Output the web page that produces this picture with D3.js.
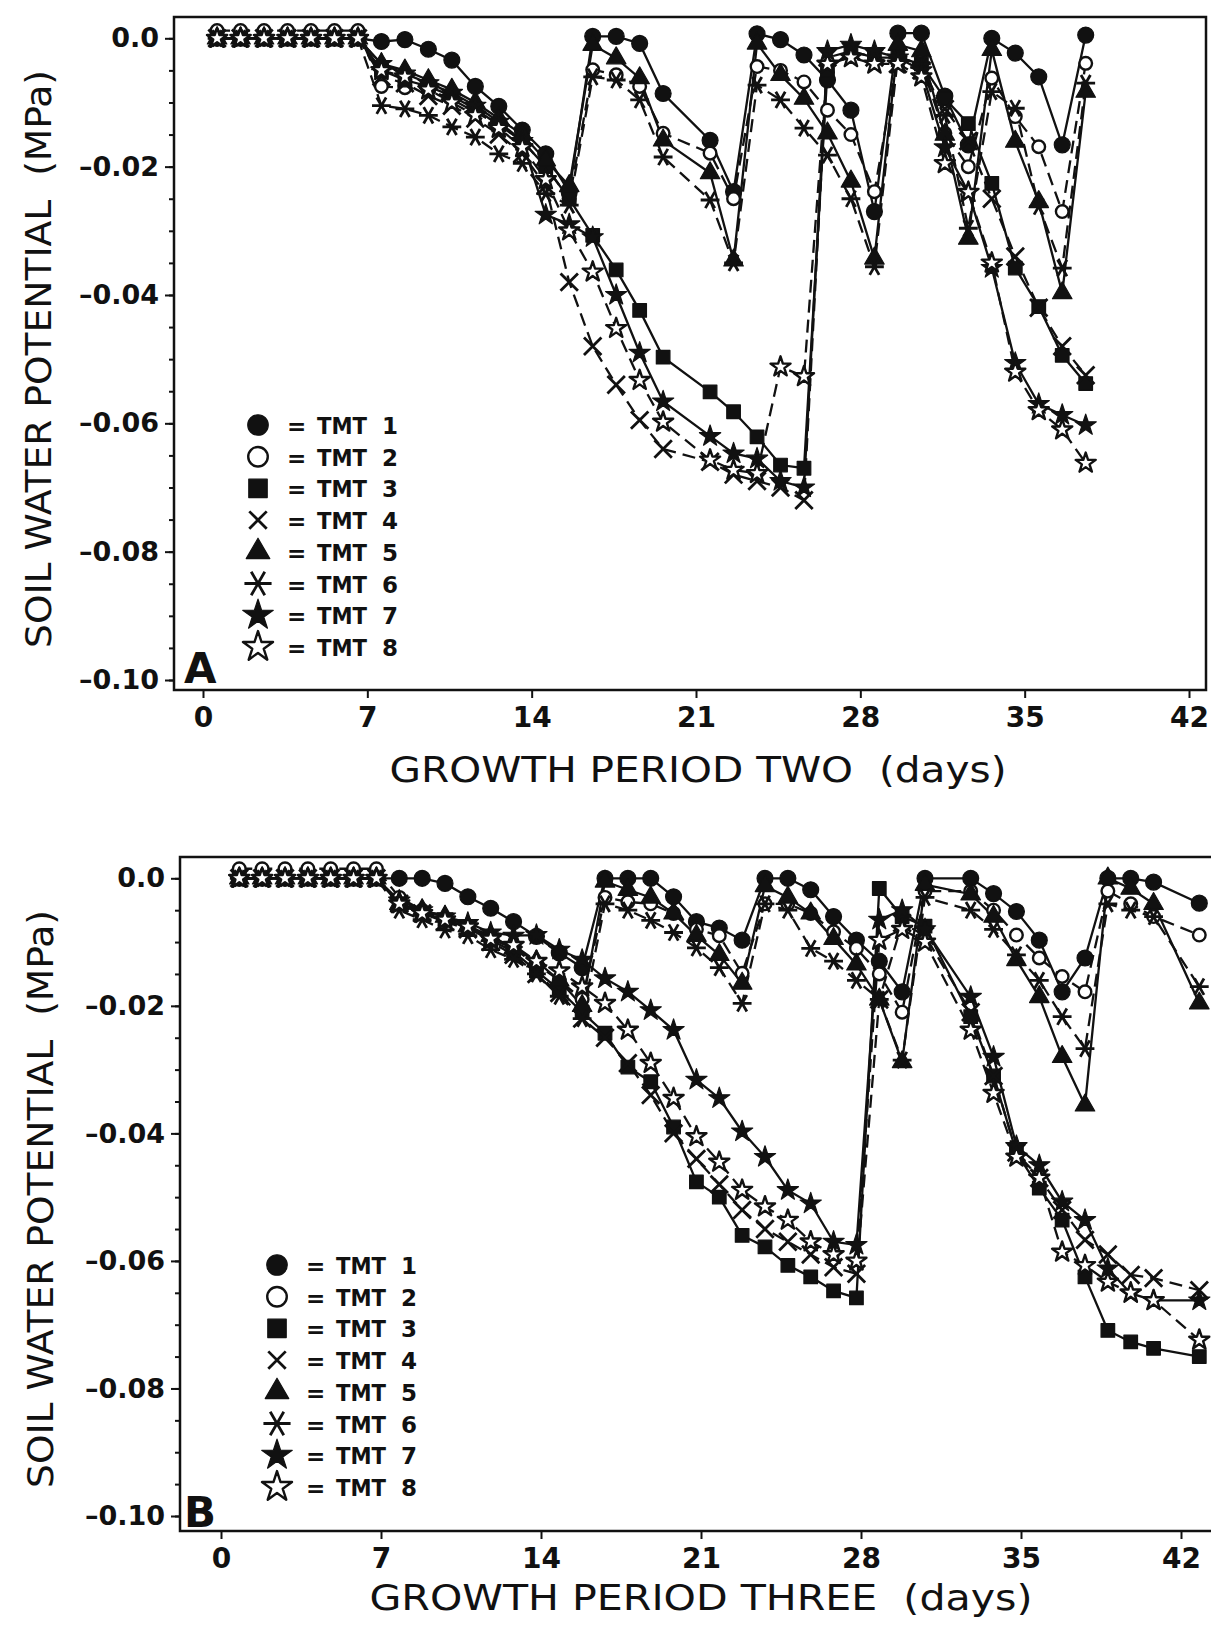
<!DOCTYPE html>
<html>
<head>
<meta charset="utf-8">
<script src="https://cdn.jsdelivr.net/npm/d3@7"></script>
<style>
  body { margin: 0; background: #fff; }
  text { font-family: 'DejaVu Sans', sans-serif; fill: #111; white-space: pre; }
</style>
</head>
<body>
<svg id="chart" width="1211" height="1626"></svg>
<script>
// ---- data ----
const ticksX = [0, 7, 14, 21, 28, 35, 42]
const ticksY = [0, -0.02, -0.04, -0.06, -0.08, -0.10]
const minorY = [0, -0.005, -0.01, -0.015, -0.02, -0.025, -0.03, -0.035, -0.04, -0.045, -0.05,
  -0.055, -0.06, -0.065, -0.07, -0.075, -0.08, -0.085, -0.09, -0.095, -0.10]
const labelsTMT = ['TMT 1', 'TMT 2', 'TMT 3', 'TMT 4', 'TMT 5', 'TMT 6', 'TMT 7', 'TMT 8']

// growth period two : measurement days
const daysA = [0.6, 1.6, 2.6, 3.6, 4.6, 5.6, 6.6, 7.6, 8.6, 9.6, 10.6, 11.6, 12.6, 13.6, 14.6, 15.6,
  16.6, 17.6, 18.6, 19.6, 20.6, 21.6, 22.6, 23.6, 24.6, 25.6, 26.6, 27.6, 28.6, 29.6, 30.6, 31.6,
  32.6, 33.6, 34.6, 35.6, 36.6, 37.6]

const a1 = [0, 0, 0, 0, 0, 0, 0, -0.0005, -0.0002, -0.0017, -0.0034, -0.0075, -0.0106, -0.0143, -0.018, -0.024,
  0.0003, 0.0003, -0.0008, -0.0086, null, -0.0159, -0.0239, 0.0007, -0.0002, -0.0026, -0.0065, -0.0112, -0.027,
  0.0008, 0.0008, -0.009, -0.0166, 0, -0.0023, -0.006, -0.0166, 0.0005]
const a2 = [0.0012, 0.0012, 0.0012, 0.0012, 0.0012, 0.0012, 0.0012, -0.0075, -0.0077, -0.008, -0.0095, -0.0115,
  -0.0135, -0.016, -0.02, -0.025, -0.0049, -0.0057, -0.0075, -0.0148, null, -0.0179, -0.025, -0.0044, -0.005,
  -0.0068, -0.0112, -0.015, -0.0239, -0.003, -0.004, -0.0148, -0.02, -0.0062, -0.0122, -0.0169, -0.027, -0.0039]
const a3 = [0, 0, 0, 0, 0, 0, 0, -0.005, -0.0065, -0.0075, -0.009, -0.011, -0.0135, -0.016, -0.02, -0.025,
  -0.0307, -0.0361, -0.0424, -0.0497, null, -0.0551, -0.0582, -0.0621, -0.0665, -0.067, -0.005, -0.002, -0.003,
  -0.003, -0.004, -0.0094, -0.0133, -0.0226, -0.0358, -0.0418, -0.0494, -0.0538]
const a4 = [0, 0, 0, 0, 0, 0, 0, -0.006, -0.007, -0.009, -0.0105, -0.0125, -0.015, -0.018, -0.023, -0.038,
  -0.048, -0.054, -0.0595, -0.064, null, -0.066, -0.068, -0.069, -0.07, -0.072, -0.003, -0.002, -0.003,
  -0.004, -0.005, -0.011, -0.016, -0.025, -0.034, -0.042, -0.048, -0.0525]
const a5 = [0, 0, 0, 0, 0, 0, 0, -0.004, -0.005, -0.0065, -0.008, -0.01, -0.0125, -0.015, -0.019, -0.023,
  -0.001, -0.0031, -0.0062, -0.0159, null, -0.021, -0.0346, -0.0008, -0.0057, -0.0094, -0.0148, -0.0223, -0.0343,
  -0.001, -0.002, -0.015, -0.0312, -0.0018, -0.0161, -0.0255, -0.0397, -0.0083]
const a6 = [0, 0, 0, 0, 0, 0, 0, -0.0105, -0.011, -0.012, -0.0138, -0.0154, -0.018, -0.0195, -0.0242, -0.026,
  -0.006, -0.0065, -0.0096, -0.0185, null, -0.0252, -0.035, -0.0073, -0.0096, -0.014, -0.0182, -0.025, -0.0356,
  -0.003, -0.004, -0.012, -0.0296, -0.0083, -0.0109, -0.0262, -0.0358, -0.007]
const a7 = [0, 0, 0, 0, 0, 0, 0, -0.004, -0.0055, -0.007, -0.0085, -0.0105, -0.013, -0.016, -0.0275, -0.029,
  -0.031, -0.04, -0.049, -0.0566, null, -0.062, -0.0647, -0.0655, -0.069, -0.07, -0.002, -0.001, -0.002,
  -0.003, -0.005, -0.017, -0.024, -0.0358, -0.0506, -0.057, -0.0587, -0.0603]
const a8 = [0, 0, 0, 0, 0, 0, 0, -0.005, -0.006, -0.008, -0.01, -0.012, -0.014, -0.017, -0.022, -0.03,
  -0.0364, -0.0452, -0.0533, -0.0598, null, -0.0657, -0.0673, -0.0678, -0.0512, -0.0527, -0.004, -0.003, -0.004,
  -0.004, -0.006, -0.0195, -0.024, -0.035, -0.052, -0.058, -0.061, -0.0662]

// growth period three : measurement days
const daysB = [0.8, 1.8, 2.8, 3.8, 4.8, 5.8, 6.8, 7.8, 8.8, 9.8, 10.8, 11.8, 12.8, 13.8, 14.8, 15.8,
  16.8, 17.8, 18.8, 19.8, 20.8, 21.8, 22.8, 23.8, 24.8, 25.8, 26.8, 27.8, 28.8, 29.8, 30.8, 31.8,
  32.8, 33.8, 34.8, 35.8, 36.8, 37.8, 38.8, 39.8, 40.8, 41.8, 42.8]

const b1 = [0, 0, 0, 0, 0, 0, 0, 0, 0, -0.0008, -0.0029, -0.0047, -0.0068, -0.0091, -0.0117, -0.014,
  0, 0, 0, -0.0029, -0.0068, -0.0078, -0.0097, 0, 0, -0.0018, -0.006, -0.0097, -0.013, -0.0178, 0, null,
  0, -0.0024, -0.0052, -0.0097, -0.0178, -0.0125, 0, 0, -0.0006, null, -0.0039]
const b2 = [0.0015, 0.0015, 0.0015, 0.0015, 0.0015, 0.0015, 0.0015, -0.003, -0.005, -0.0065, -0.0075, -0.0095,
  -0.011, -0.0135, -0.016, -0.019, -0.003, -0.0037, -0.004, -0.0055, -0.008, -0.009, -0.0149, -0.004, -0.004,
  -0.0055, -0.0084, -0.011, -0.015, -0.021, -0.002, null, -0.002, -0.005, -0.0089, -0.0125, -0.0154, -0.0178,
  -0.002, -0.004, -0.006, null, -0.0089]
const b3 = [0, 0, 0, 0, 0, 0, 0, -0.004, -0.0055, -0.0065, -0.0078, -0.0097, -0.0115, -0.0145, -0.0175, -0.021,
  -0.0243, -0.0296, -0.0319, -0.039, -0.0476, -0.05, -0.056, -0.0578, -0.0607, -0.0625, -0.0647, -0.0658,
  -0.0016, -0.006, -0.0075, null, -0.0217, -0.031, -0.043, -0.0486, -0.0536, -0.0625, -0.0709, -0.0727,
  -0.0737, null, -0.075]
const b4 = [0, 0, 0, 0, 0, 0, 0, -0.004, -0.0055, -0.0068, -0.008, -0.01, -0.012, -0.015, -0.018, -0.022,
  -0.025, -0.029, -0.034, -0.04, -0.044, -0.048, -0.052, -0.055, -0.057, -0.059, -0.061, -0.062,
  -0.019, -0.007, -0.009, null, -0.021, -0.031, -0.043, -0.047, -0.052, -0.0567, -0.059, -0.0622,
  -0.0627, null, -0.0646]
const b5 = [0, 0, 0, 0, 0, 0, 0, -0.004, -0.005, -0.006, -0.0075, -0.009, -0.011, -0.013, -0.016, -0.02,
  -0.0005, -0.0018, -0.003, -0.0055, -0.009, -0.012, -0.0165, -0.0012, -0.003, -0.0055, -0.0095, -0.0135,
  -0.019, -0.0288, -0.001, null, -0.0025, -0.006, -0.0128, -0.0186, -0.028, -0.0356, 0, -0.0016, -0.004,
  null, -0.0196]
const b6 = [0, 0, 0, 0, 0, 0, 0, -0.005, -0.0065, -0.0081, -0.009, -0.0112, -0.0127, -0.015, -0.0185, -0.022,
  -0.004, -0.005, -0.0066, -0.0085, -0.0109, -0.014, -0.0196, -0.004, -0.005, -0.011, -0.013, -0.016,
  -0.019, -0.0285, -0.003, null, -0.005, -0.008, -0.012, -0.016, -0.0217, -0.0267, -0.004, -0.005, -0.006,
  null, -0.017]
const b7 = [0, 0, 0, 0, 0, 0, 0, -0.0035, -0.005, -0.006, -0.007, -0.0085, -0.009, -0.0089, -0.0112, -0.0128,
  -0.0157, -0.0178, -0.0207, -0.0238, -0.0316, -0.0345, -0.0397, -0.0437, -0.0489, -0.051, -0.057, -0.0575,
  -0.0065, -0.005, -0.008, null, -0.0186, -0.028, -0.042, -0.045, -0.0507, -0.0536, -0.0612, -0.0651,
  -0.0662, null, -0.0662]
const b8 = [0, 0, 0, 0, 0, 0, 0, -0.004, -0.0055, -0.0065, -0.0076, -0.0095, -0.0105, -0.013, -0.0145, -0.017,
  -0.0196, -0.0238, -0.029, -0.0345, -0.0405, -0.0445, -0.0489, -0.0515, -0.0536, -0.057, -0.059, -0.06,
  -0.0097, -0.008, -0.01, null, -0.0238, -0.0337, -0.0437, -0.047, -0.0586, -0.0607, -0.0633, -0.065,
  -0.0662, null, -0.0724]

// ---- marker styles, one per treatment ----
const markers = [
  { type: d3.symbolCircle, solid: true, size: 200, leg: 330 },
  { type: d3.symbolCircle, solid: false, size: 125, leg: 300, dash: '13,7' },
  { type: d3.symbolSquare, solid: true, size: 185, leg: 340 },
  { type: d3.symbolTimes, line: true, size: 200, leg: 200, dash: '13,7' },
  { type: d3.symbolTriangle, solid: true, size: 165, leg: 240 },
  { type: d3.symbolAsterisk, line: true, size: 250, leg: 520, dash: '13,7', rot: 90 },
  { type: d3.symbolStar, solid: true, size: 140, leg: 290 },
  { type: d3.symbolStar, solid: false, size: 125, leg: 280, dash: '13,7' }
]

// ---- panel layout ----
const panels = [
  { days: daysA, series: [a1, a2, a3, a4, a5, a6, a7, a8], title: 'GROWTH PERIOD TWO  (days)', letter: 'A',
    x0: 203, x42: 1189, y0: 38.3, y10: 680, left: 174, right: 1206, top: 17, bottom: 690,
    yTitleX: 51, yTitleY: 359, xTitleX: 698, xTitleY: 782, xTitleLen: 617,
    letterX: 184, letterY: 683, legX: 258, legY: 425 },
  { days: daysB, series: [b1, b2, b3, b4, b5, b6, b7, b8], title: 'GROWTH PERIOD THREE  (days)', letter: 'B',
    x0: 221, x42: 1181, y0: 878.3, y10: 1516, left: 180, right: 1214, top: 857, bottom: 1531,
    yTitleX: 53, yTitleY: 1199, xTitleX: 701, xTitleY: 1610, xTitleLen: 663,
    letterX: 184, letterY: 1527, legX: 277, legY: 1265 }
]

const svg = d3.select('#chart')

function markerPath(m, size) {
  return d3.symbol().type(m.type).size(size)()
}

function styleMarker(sel, m) {
  sel.attr('fill', m.solid ? '#111' : (m.line ? 'none' : '#fff'))
    .attr('stroke', '#111')
    .attr('stroke-width', m.line ? 2.8 : (m.solid ? 1.2 : 2.4))
    .attr('stroke-linejoin', 'round')
}

panels.forEach(function (p) {
  const x = d3.scaleLinear().domain([0, 42]).range([p.x0, p.x42])
  const y = d3.scaleLinear().domain([0, -0.10]).range([p.y0, p.y10])
  const g = svg.append('g')

  // frame
  g.append('rect')
    .attr('x', p.left).attr('y', p.top)
    .attr('width', p.right - p.left).attr('height', p.bottom - p.top)
    .attr('fill', 'none').attr('stroke', '#111').attr('stroke-width', 2.5)

  // y axis, major + minor
  const yAxis = g.append('g').attr('transform', `translate(${p.left},0)`)
    .call(d3.axisLeft(y).tickValues(ticksY).tickSize(9).tickPadding(6)
      .tickFormat(d => d === 0 ? '0.0' : '\u2013' + Math.abs(d).toFixed(2)))
  yAxis.select('.domain').remove()
  yAxis.selectAll('line').attr('stroke', '#111').attr('stroke-width', 2)
  yAxis.selectAll('text').attr('font-size', 27).attr('font-weight', 'bold').attr('fill', '#111')
    .style('font-family', 'DejaVu Sans')

  const yMinor = g.append('g').attr('transform', `translate(${p.left},0)`)
    .call(d3.axisLeft(y).tickValues(minorY).tickSize(5).tickFormat(''))
  yMinor.select('.domain').remove()
  yMinor.selectAll('line').attr('stroke', '#111').attr('stroke-width', 2)

  // x axis
  const xAxis = g.append('g').attr('transform', `translate(0,${p.bottom})`)
    .call(d3.axisBottom(x).tickValues(ticksX).tickSize(8).tickPadding(9))
  xAxis.select('.domain').remove()
  xAxis.selectAll('line').attr('stroke', '#111').attr('stroke-width', 2)
  xAxis.selectAll('text').attr('font-size', 28).attr('font-weight', 'bold').attr('fill', '#111')
    .style('font-family', 'DejaVu Sans')

  // axis titles
  g.append('text')
    .attr('transform', `translate(${p.yTitleX},${p.yTitleY}) rotate(-90)`)
    .attr('text-anchor', 'middle')
    .attr('font-size', 36)
    .attr('textLength', 578).attr('lengthAdjust', 'spacingAndGlyphs')
    .text('SOIL WATER POTENTIAL  (MPa)')

  g.append('text')
    .attr('x', p.xTitleX).attr('y', p.xTitleY)
    .attr('text-anchor', 'middle')
    .attr('font-size', 35)
    .attr('textLength', p.xTitleLen).attr('lengthAdjust', 'spacingAndGlyphs')
    .text(p.title)

  // lines
  const line = d3.line().x(d => x(d[0])).y(d => y(d[1]))
  p.series.forEach(function (vals, k) {
    const pts = p.days.map((d, i) => [d, vals[i]]).filter(d => d[1] != null)
    g.append('path')
      .attr('d', line(pts))
      .attr('fill', 'none')
      .attr('stroke', '#111')
      .attr('stroke-width', 2.3)
      .attr('stroke-dasharray', markers[k].dash || null)
  })

  // markers
  p.series.forEach(function (vals, k) {
    const m = markers[k]
    const pts = p.days.map((d, i) => [d, vals[i]]).filter(d => d[1] != null)
    g.append('g').selectAll('path')
      .data(pts)
      .join('path')
      .attr('d', markerPath(m, m.size))
      .attr('transform', d => `translate(${x(d[0])},${y(d[1])})` + (m.rot ? ` rotate(${m.rot})` : ''))
      .call(styleMarker, m)
  })

  // legend
  const leg = g.append('g')
  labelsTMT.forEach(function (lab, k) {
    const m = markers[k]
    const cy = p.legY + k * 31.7
    leg.append('path')
      .attr('d', markerPath(m, m.leg))
      .attr('transform', `translate(${p.legX},${cy})` + (m.rot ? ` rotate(${m.rot})` : ''))
      .call(styleMarker, m)
      .attr('stroke-width', m.line ? 2.8 : (m.solid ? 1.2 : 2.4))
    leg.append('text')
      .attr('x', p.legX + 29).attr('y', cy + 9)
      .attr('font-size', 23).attr('font-weight', 'bold')
      .text('=')
    leg.append('text')
      .attr('x', p.legX + 59).attr('y', cy + 9)
      .attr('font-size', 23).attr('font-weight', 'bold')
      .attr('textLength', 50).attr('lengthAdjust', 'spacingAndGlyphs')
      .text(lab.split(' ')[0])
    leg.append('text')
      .attr('x', p.legX + 124).attr('y', cy + 9)
      .attr('font-size', 23).attr('font-weight', 'bold')
      .text(lab.split(' ')[1])
  })

  // panel letter
  g.append('text')
    .attr('x', p.letterX).attr('y', p.letterY)
    .attr('font-size', 42).attr('font-weight', 'bold')
    .text(p.letter)
})
</script>
</body>
</html>
